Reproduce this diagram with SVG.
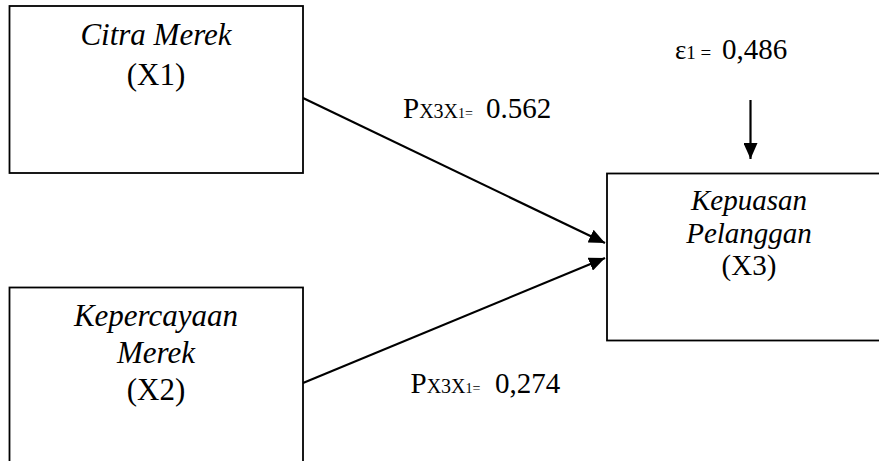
<svg xmlns="http://www.w3.org/2000/svg" width="879" height="461" viewBox="0 0 879 461">
<style>
.box{fill:#fff;stroke:#000;stroke-width:1.8}
.t{fill:#000;text-anchor:middle}
.i{font-style:italic}
.lbl{fill:#000}
.con{stroke:#000;stroke-width:2.2;fill:none}
</style>
<defs>
<marker id="ah" markerUnits="userSpaceOnUse" markerWidth="18" markerHeight="14" refX="16" refY="7" orient="auto">
<path d="M0,0 L16,7 L0,14 z" fill="#000"/>
</marker>
</defs>
<rect width="879" height="461" fill="#fff"/>
<g id="connectors">
<line class="con" x1="303" y1="98" x2="605" y2="243" marker-end="url(#ah)"/>
<line class="con" x1="303" y1="383" x2="605" y2="258" marker-end="url(#ah)"/>
<line class="con" x1="750.5" y1="100" x2="750.5" y2="159" marker-end="url(#ah)"/>
</g>
<g font-family="Liberation Serif, Tinos, Times New Roman, Times, DejaVu Serif, Noto Serif, serif">
<g id="node-x1">
<rect class="box" x="9.5" y="6" width="293.5" height="167"/>
<text class="t i" x="156" y="45" font-size="31">Citra Merek</text>
<text class="t" x="156" y="85" font-size="31">(X1)</text>
</g>
<g id="node-x2">
<rect class="box" x="9.5" y="287.5" width="293.5" height="190"/>
<text class="t i" x="156" y="326" font-size="31">Kepercayaan</text>
<text class="t i" x="156" y="363" font-size="31">Merek</text>
<text class="t" x="156" y="400" font-size="31">(X2)</text>
</g>
<g id="node-x3">
<rect class="box" x="607" y="173.5" width="290" height="167"/>
<text class="t i" x="749" y="210" font-size="29">Kepuasan</text>
<text class="t i" x="749" y="243" font-size="29">Pelanggan</text>
<text class="t" x="749" y="275" font-size="29">(X3)</text>
</g>
<g id="label-p1">
<text class="lbl" x="403" y="118"><tspan font-size="29">P</tspan><tspan font-size="28" font-variant="small-caps">x</tspan><tspan font-size="20">3</tspan><tspan font-size="28" font-variant="small-caps">x</tspan><tspan font-size="14">1=</tspan><tspan font-size="29"> </tspan><tspan x="486" font-size="29">0.562</tspan></text>
</g>
<g id="label-p2">
<text class="lbl" x="410.5" y="393"><tspan font-size="29">P</tspan><tspan font-size="28" font-variant="small-caps">x</tspan><tspan font-size="20">3</tspan><tspan font-size="28" font-variant="small-caps">x</tspan><tspan font-size="14">1=</tspan><tspan font-size="29"> </tspan><tspan x="495" font-size="29">0,274</tspan></text>
</g>
<g id="label-e1">
<text class="lbl" x="675" y="59"><tspan font-size="27">ε</tspan><tspan font-size="19">1 = </tspan><tspan x="722" font-size="29">0,486</tspan></text>
</g>
</g>
</svg>
